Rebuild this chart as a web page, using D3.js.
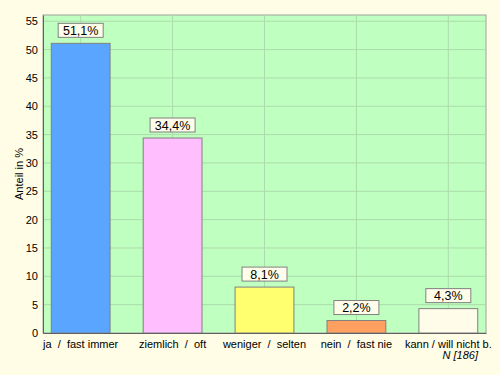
<!DOCTYPE html>
<html lang="de">
<head>
    <meta charset="UTF-8">
    <script src="https://d3js.org/d3.v7.min.js"></script>
    <style>
        body { margin: 0; background: #fffde6; font-family: "Liberation Sans", Arial, sans-serif; }
        svg { display: block; }
        text { white-space: pre; }
    </style>
</head>
<body>
    <svg id="chart"></svg>
    <script>
        // Anteile in Prozent
        const kategorien = ["ja  /  fast immer", "ziemlich  /  oft", "weniger  /  selten", "nein  /  fast nie", "kann / will nicht b."];
        const werte = [51.1, 34.4, 8.1, 2.2, 4.3];
        const farben = ["#5aa5ff", "#ffbfff", "#ffff70", "#ffa060", "#fffdea"];
        const yTicks = [0, 5, 10, 15, 20, 25, 30, 35, 40, 45, 50, 55];
        const fallzahl = "N [186]";

        const width = 500, height = 375;
        const margin = {top: 15, right: 14, bottom: 42, left: 43};

        const svg = d3.select("#chart").attr("width", width).attr("height", height);

        const x = d3.scaleBand().domain(kategorien)
            .range([margin.left, width - margin.right])
            .paddingInner(0.36).paddingOuter(0.09);
        const y = d3.scaleLinear().domain([0, 56.1]).range([height - margin.bottom, margin.top]);

        // Plotfläche
        svg.append("rect")
            .attr("x", margin.left).attr("y", margin.top)
            .attr("width", width - margin.left - margin.right)
            .attr("height", height - margin.top - margin.bottom)
            .attr("fill", "#bfffbf")
            .attr("stroke", "#a0a0a0");

        // Gitter
        svg.append("g").selectAll("line").data(yTicks.slice(1)).join("line")
            .attr("x1", margin.left).attr("x2", width - margin.right)
            .attr("y1", d => y(d)).attr("y2", d => y(d))
            .attr("stroke", "#acdcac").attr("stroke-width", 1);
        svg.append("g").selectAll("line").data(kategorien).join("line")
            .attr("x1", d => x(d) + x.bandwidth() / 2).attr("x2", d => x(d) + x.bandwidth() / 2)
            .attr("y1", margin.top).attr("y2", height - margin.bottom)
            .attr("stroke", "#acdcac").attr("stroke-width", 1);

        // Balken
        svg.append("g").selectAll("rect").data(werte).join("rect")
            .attr("x", (d, i) => x(kategorien[i]))
            .attr("y", d => y(d))
            .attr("width", x.bandwidth())
            .attr("height", d => y(0) - y(d))
            .attr("fill", (d, i) => farben[i])
            .attr("stroke", "#808080");

        // Achsen
        const yAxis = svg.append("g").attr("transform", `translate(${margin.left},0)`)
            .call(d3.axisLeft(y).tickValues(yTicks).tickSize(0).tickPadding(5));
        yAxis.select(".domain").attr("stroke", "#606060");
        yAxis.selectAll("text").style("font-size", "11px").attr("fill", "#000")
            .style("font-family", "'Liberation Sans', Arial, sans-serif");

        const xAxis = svg.append("g").attr("transform", `translate(0,${height - margin.bottom})`)
            .call(d3.axisBottom(x).tickSize(0).tickPadding(7));
        xAxis.select(".domain").attr("stroke", "#606060");
        xAxis.selectAll("text").style("font-size", "11px").attr("fill", "#000")
            .style("font-family", "'Liberation Sans', Arial, sans-serif");

        svg.append("text")
            .attr("transform", `translate(23,${(margin.top + height - margin.bottom) / 2}) rotate(-90)`)
            .attr("text-anchor", "middle")
            .style("font-size", "11px")
            .text("Anteil in %");

        svg.append("text")
            .attr("x", 478).attr("y", 359)
            .attr("text-anchor", "end")
            .style("font-size", "11px").style("font-style", "italic")
            .text(fallzahl);

        // Wertelabels
        const fmt = d => d.toFixed(1).replace(".", ",") + "%";
        const lab = svg.append("g").selectAll("g").data(werte).join("g")
            .attr("transform", (d, i) => `translate(${x(kategorien[i]) + x.bandwidth() / 2},${y(d) - 13})`);
        lab.append("rect")
            .attr("x", -22.5).attr("y", -7).attr("width", 45).attr("height", 14)
            .attr("fill", "#fffdea").attr("stroke", "#808080");
        lab.append("text")
            .attr("text-anchor", "middle").attr("dy", "0.36em")
            .style("font-size", "12.5px")
            .text(fmt);
    </script>
</body>
</html>
